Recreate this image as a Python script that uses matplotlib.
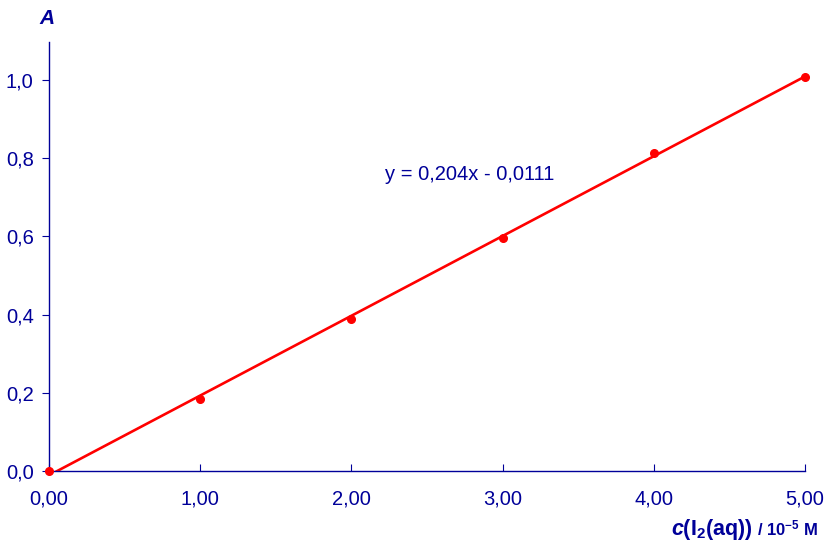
import numpy as np
import matplotlib.pyplot as plt

# Messpunkte
conc = [0.0, 1.0, 2.0, 3.0, 4.0, 5.0]
absorb = [0.0, 0.184, 0.389, 0.596, 0.813, 1.008]
slope = 0.204
intercept = -0.0111
xticks = [0, 1, 2, 3, 4, 5]
yticks = [0.0, 0.2, 0.4, 0.6, 0.8, 1.0]

navy = '#000099'
plt.rcParams['font.family'] = ['Liberation Sans', 'DejaVu Sans']
plt.rcParams['mathtext.fontset'] = 'custom'
plt.rcParams['mathtext.rm'] = 'Liberation Sans:bold'
plt.rcParams['mathtext.it'] = 'Liberation Sans:bold:italic'
plt.rcParams['mathtext.bf'] = 'Liberation Sans:bold'

fig = plt.figure(figsize=(8.36, 5.5), dpi=100)
ax = fig.add_axes([49/836, 79/550, 756/836, 429/550])

xf = np.array([0, 5])
ax.plot(xf, slope * xf + intercept, color='#ff0000', lw=1.9, zorder=2)
ax.plot(conc, absorb, 'o', color='#ff0000', ms=5.5, zorder=3, clip_on=False)

ax.set_xlim(0, 5)
ax.set_ylim(0, 1.097)
ax.set_xticks(xticks)
ax.set_xticklabels([('%.2f' % v).replace('.', ',') for v in xticks])
ax.set_yticks(yticks)
ax.set_yticklabels([('%.1f' % v).replace('.', ',') for v in yticks])

for s in ['top', 'right']:
    ax.spines[s].set_visible(False)
for s in ['left', 'bottom']:
    ax.spines[s].set_color(navy)
    ax.spines[s].set_linewidth(1.0)
ax.tick_params(axis='x', direction='in', length=5, colors=navy, labelsize=14.5, pad=13)
ax.tick_params(axis='y', direction='out', length=5, colors=navy, labelsize=14.5, pad=6)

ax.text(2.22, 0.757, 'y = 0,204x - 0,0111', color=navy, fontsize=14.5,
        ha='left', va='center')

fig.text(47/836, 1 - 18/550, r'$\mathit{A}$', color=navy, fontsize=15,
         ha='center', va='center')

# Achsentitel x: zwei Teile, Grundlinie gemeinsam
ybase = 1 - 535/550
t2 = fig.text(818/836, ybase, r'/ 10$^{-5}$ M', color=navy, fontsize=12,
              fontweight='bold', ha='right', va='baseline')
fig.canvas.draw()
x0 = t2.get_window_extent().x0
fig.text((x0 - 4) / fig.bbox.width, ybase, r'$\mathit{c}\mathrm{(I_2(aq))}$',
         color=navy, fontsize=15.5, ha='right', va='baseline')

fig.savefig('out.png', dpi=100)
